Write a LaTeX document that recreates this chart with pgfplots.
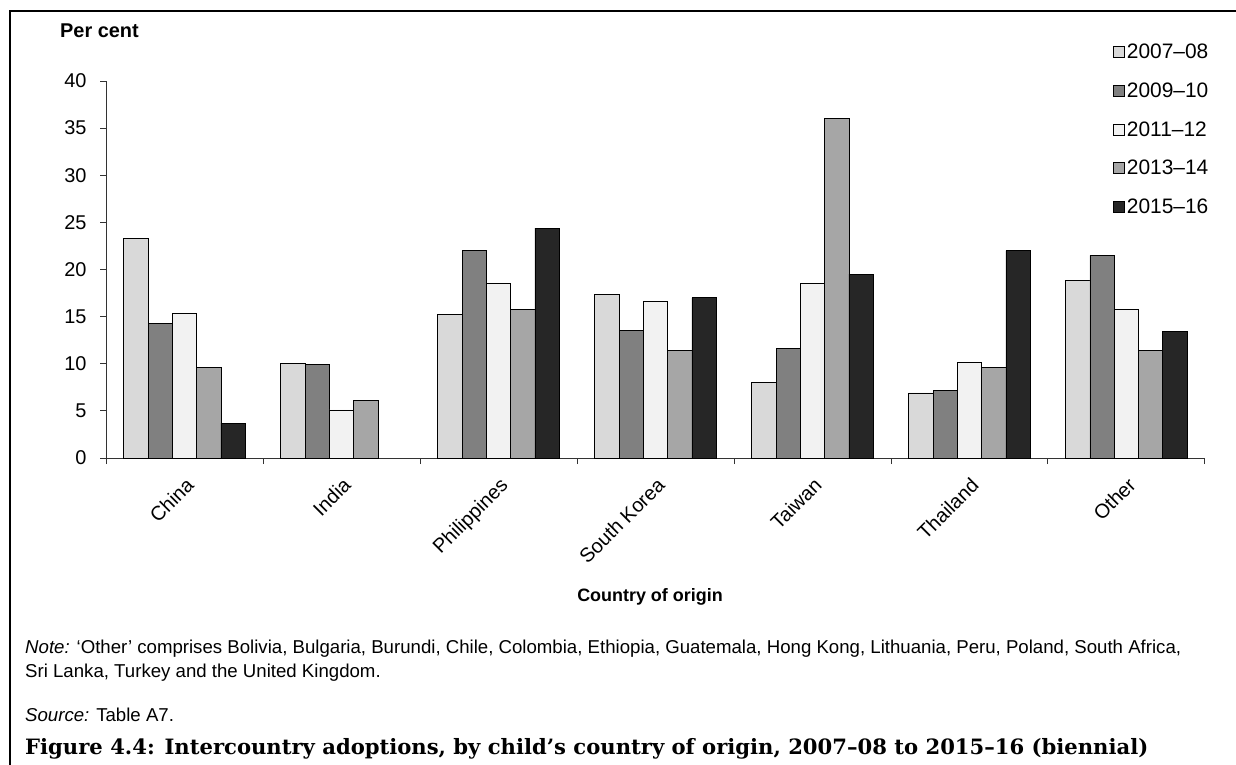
\documentclass[border=0pt]{standalone}
\usepackage{pgfplots}
\pgfplotsset{compat=1.18}
\usepackage{fontspec}
\setmainfont{Liberation Sans}
\newfontfamily\capfont{DejaVu Serif}
\definecolor{cA}{HTML}{D9D9D9}
\definecolor{cB}{HTML}{808080}
\definecolor{cC}{HTML}{F2F2F2}
\definecolor{cD}{HTML}{A6A6A6}
\definecolor{cE}{HTML}{262626}
\pgfplotsset{sqlegend/.style={legend image code/.code={\draw[##1,draw=black,line width=0.8bp] (0bp,-5.5bp) rectangle (11bp,5.5bp);}}}
\begin{document}
\begin{tikzpicture}
\path[use as bounding box] (0,0) rectangle (1236bp,-765bp);
\draw[line width=2bp] (10bp,-766bp) -- (10bp,-11bp) -- (1237bp,-11bp);
\begin{axis}[
  at={(106bp,-458bp)}, anchor=south west,
  scale only axis, width=1099bp, height=377bp,
  xmin=-0.5, xmax=6.5, ymin=0, ymax=40,
  axis lines*=left,
  axis line style={line width=0.9bp, color=black!80},
  ytick={0,5,...,40},
  xtick={0,...,6},
  xticklabels={China,India,Philippines,South Korea,Taiwan,Thailand,Other},
  minor xtick={-0.5,0.5,...,6.5},
  major x tick style={draw=none},
  tick style={line width=0.9bp, color=black!80},
  tick align=outside, major tick length=6bp, minor tick length=6bp,
  /pgf/number format/assume math mode=true,
  ticklabel style={font=\fontsize{20}{24}\selectfont},
  yticklabel style={xshift=-10bp},
  xticklabel style={rotate=45, anchor=north east, font=\fontsize{20}{24}\selectfont, yshift=-5.5bp, xshift=-5bp},
  ybar=0pt, bar width=24.3bp,
  legend style={at={(axis description cs:0.9163,1.1034)}, anchor=north west, draw=none, fill=none,
    font=\fontsize{21}{25}\selectfont, row sep=18.5bp, inner sep=0pt, cells={anchor=west}},
  clip=false,
]
\addplot[fill=cA, draw=black, line width=0.8bp, sqlegend] coordinates {(0,23.3) (1,10.0) (2,15.2) (3,17.4) (4,8.0) (5,6.9) (6,18.8)};
\addplot[fill=cB, draw=black, line width=0.8bp, sqlegend] coordinates {(0,14.3) (1,9.9) (2,22.0) (3,13.5) (4,11.6) (5,7.2) (6,21.5)};
\addplot[fill=cC, draw=black, line width=0.8bp, sqlegend] coordinates {(0,15.3) (1,5.1) (2,18.5) (3,16.6) (4,18.5) (5,10.1) (6,15.8)};
\addplot[fill=cD, draw=black, line width=0.8bp, sqlegend] coordinates {(0,9.6) (1,6.1) (2,15.8) (3,11.4) (4,36.0) (5,9.6) (6,11.4)};
\addplot[fill=cE, draw=black, line width=0.8bp, sqlegend] coordinates {(0,3.7) (2,24.4) (3,17.0) (4,19.5) (5,22.0) (6,13.4)};
\legend{2007–08,2009–10,2011–12,2013–14,2015–16}
\end{axis}
\node[anchor=west, inner sep=0pt, font=\bfseries\fontsize{20}{24}\selectfont] at (60bp,-31bp) {Per cent};
\node[font=\bfseries\fontsize{18}{21}\selectfont] at (650bp,-597bp) {Country of origin};
\node[anchor=north west, align=left, inner sep=0pt, font=\fontsize{18.7}{24}\selectfont] at (25bp,-640bp)
 {\textit{Note:} ‘Other’ comprises Bolivia, Bulgaria, Burundi, Chile, Colombia, Ethiopia, Guatemala, Hong Kong, Lithuania, Peru, Poland, South Africa,\\
  Sri Lanka, Turkey and the United Kingdom.};
\node[anchor=north west, inner sep=0pt, font=\fontsize{18.7}{21}\selectfont] at (25bp,-708bp) {\textit{Source:} Table A7.};
\node[anchor=west, inner sep=0pt, font=\capfont\bfseries\fontsize{21.2}{25}\selectfont] at (25bp,-749bp)
 {Figure 4.4: Intercountry adoptions, by child’s country of origin, 2007–08 to 2015–16 (biennial)};
\end{tikzpicture}
\end{document}
